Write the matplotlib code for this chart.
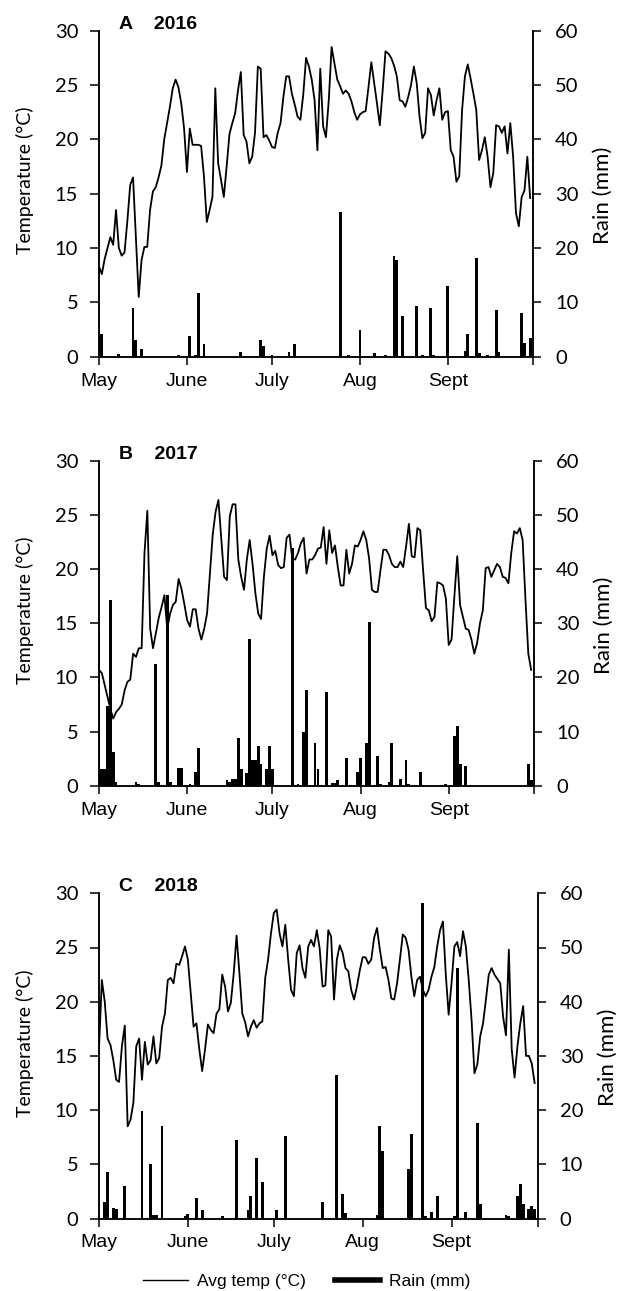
import matplotlib
matplotlib.use("Agg")
import matplotlib.pyplot as plt
from matplotlib.lines import Line2D
import numpy as np

# daily average temperature, May 1 (day 0) .. Sept 30 (day 152)
temp_2016 = [
    8.3, 7.6, 9.0, 10.0, 11.0, 10.3, 13.5, 10.0, 9.3, 9.6,
    12.5, 15.8, 16.5, 11.0, 5.5, 8.9, 10.1, 10.1, 13.5, 15.2,
    15.6, 16.5, 17.6, 20.0, 21.5, 23.0, 24.7, 25.5, 24.8, 23.3,
    21.0, 17.0, 21.0, 19.5, 19.5, 19.5, 19.4, 16.6, 12.4, 13.5,
    14.7, 24.7, 17.8, 16.3, 14.7, 17.5, 20.5, 21.5, 22.4, 24.5,
    26.2, 20.4, 19.8, 17.8, 18.4, 20.6, 26.7, 26.5, 20.2, 20.4,
    19.9, 19.3, 19.2, 20.6, 21.5, 23.9, 25.8, 25.8, 24.2, 23.2,
    22.1, 21.8, 24.1, 27.5, 26.7, 25.5, 23.6, 19.0, 26.5, 21.2,
    20.2, 23.6, 28.5, 27.0, 25.5, 24.9, 24.2, 24.5, 24.2, 23.5,
    22.5, 21.8, 22.3, 22.5, 22.6, 24.8, 27.1, 25.2, 23.3, 21.3,
    24.5, 28.1, 27.9, 27.5, 26.8, 25.8, 23.6, 23.5, 23.0, 23.9,
    25.0, 26.7, 25.2, 22.1, 20.1, 20.6, 24.7, 24.1, 22.2, 23.6,
    24.7, 21.8, 22.5, 22.6, 19.0, 18.4, 16.1, 16.6, 22.7, 25.8,
    26.9, 25.6, 24.2, 22.7, 18.1, 19.0, 20.2, 18.4, 15.6, 16.9,
    21.3, 21.2, 20.6, 21.2, 18.7, 21.5, 18.4, 13.2, 12.0, 14.7,
    15.3, 18.4, 14.6,
]
temp_2017 = [
    10.7, 10.4, 9.3, 8.2, 7.1, 6.2, 6.8, 7.1, 7.5, 8.8,
    9.6, 9.8, 12.2, 11.9, 12.7, 12.7, 21.5, 25.4, 14.5, 12.7,
    14.1, 15.5, 16.5, 17.6, 14.5, 15.9, 16.7, 17.0, 19.1, 18.2,
    16.8, 15.3, 14.7, 16.3, 16.3, 14.5, 13.5, 14.5, 15.9, 19.6,
    23.2, 25.3, 26.4, 22.9, 19.3, 19.0, 24.9, 26.0, 26.0, 20.9,
    19.3, 18.1, 20.9, 22.7, 20.5, 17.8, 15.9, 15.4, 19.3, 21.9,
    23.1, 21.3, 21.7, 20.4, 20.1, 20.2, 22.9, 23.2, 20.9, 20.9,
    21.5, 22.4, 22.9, 19.6, 20.9, 20.9, 21.3, 21.9, 22.0, 23.9,
    20.5, 23.6, 21.5, 22.2, 20.2, 18.5, 18.5, 21.8, 19.6, 20.5,
    22.2, 22.1, 22.7, 23.5, 22.7, 21.0, 18.1, 17.9, 17.9, 19.9,
    21.8, 21.8, 21.3, 20.5, 20.2, 20.2, 20.7, 20.2, 22.1, 24.2,
    21.2, 21.1, 23.8, 23.6, 19.9, 16.4, 16.2, 15.2, 15.6, 18.8,
    18.7, 18.5, 17.3, 13.0, 13.5, 17.5, 21.2, 16.7, 15.6, 14.5,
    14.4, 13.5, 12.2, 13.2, 15.0, 16.2, 20.1, 20.2, 19.3, 19.9,
    20.5, 20.2, 19.3, 19.2, 18.7, 21.5, 23.5, 23.3, 23.8, 22.7,
    17.2, 12.2, 10.7,
]
temp_2018 = [
    15.7, 22.0, 20.0, 16.6, 16.0, 14.6, 12.8, 12.6, 15.9, 17.8,
    8.5, 9.1, 10.7, 15.9, 16.6, 12.8, 16.3, 14.2, 14.6, 16.8,
    14.3, 14.8, 17.7, 18.9, 22.0, 22.2, 21.7, 23.5, 23.4, 24.2,
    25.1, 23.9, 20.8, 17.7, 18.0, 15.6, 13.6, 15.6, 17.9, 17.4,
    17.1, 18.9, 19.3, 22.5, 21.4, 19.1, 19.9, 22.6, 26.1, 22.6,
    18.9, 18.1, 16.8, 17.7, 18.3, 17.6, 18.0, 18.2, 22.2, 23.9,
    26.3, 28.2, 28.5, 26.3, 25.1, 27.1, 23.9, 21.1, 20.5, 24.5,
    25.2, 23.1, 22.2, 25.1, 25.7, 25.1, 26.6, 24.9, 21.4, 21.5,
    26.6, 26.0, 20.2, 23.9, 25.2, 24.5, 23.1, 22.8, 21.1, 20.2,
    21.4, 22.9, 24.1, 24.1, 23.5, 23.9, 25.9, 26.8, 24.8, 23.1,
    23.2, 22.0, 20.3, 20.2, 21.7, 23.9, 26.2, 25.9, 24.8, 22.3,
    20.5, 22.0, 22.3, 21.1, 20.5, 21.1, 22.3, 23.2, 25.1, 26.6,
    27.4, 22.5, 18.8, 21.7, 25.1, 25.5, 24.2, 26.5, 25.1, 22.0,
    18.3, 13.4, 14.2, 16.8, 18.0, 20.2, 22.5, 23.1, 22.5, 22.1,
    21.7, 18.6, 16.9, 24.8, 15.6, 13.0, 15.9, 18.0, 19.6, 15.0,
    15.0, 14.3, 12.5,
]

# rain: day index (0 = May 1) and amount in mm, only days with rain
rain_days_2016 = [0, 1, 7, 12, 13, 15, 28, 32, 34, 35, 37, 50, 57, 58, 61, 67, 69,
                  85, 88, 92, 97, 101, 104, 105, 107, 112, 114, 117, 118, 123, 129,
                  130, 133, 134, 137, 140, 141, 149, 150, 152]
rain_mm_2016 = [3.8, 4.2, 0.5, 8.9, 3.1, 1.5, 0.4, 3.8, 0.3, 11.8, 2.3, 0.9, 3.1, 2.0, 0.4, 0.9, 2.3,
                26.7, 0.4, 4.9, 0.7, 0.3, 18.5, 17.8, 7.5, 9.3, 0.3, 8.9, 0.3, 13.0, 1.0,
                4.2, 18.2, 0.6, 0.3, 8.6, 0.8, 8.0, 2.5, 3.4]

rain_days_2017 = [0, 1, 2, 3, 4, 5, 6, 13, 14, 20, 21, 24, 25, 28, 29, 32, 34, 35,
                  45, 46, 47, 48, 49, 50, 52, 53, 54, 55, 56, 57, 59, 60, 61, 68, 70,
                  72, 73, 76, 77, 80, 82, 83, 84, 87, 91, 92, 94, 95, 98, 99, 102,
                  103, 106, 108, 109, 113, 122, 125, 126, 127, 129, 151, 152]
rain_mm_2017 = [28.8, 3.0, 3.0, 14.7, 34.3, 6.3, 0.7, 0.6, 0.4, 22.5, 0.7, 35.2, 0.7, 3.3, 3.3, 0.3, 2.6, 7.0,
                1.0, 0.7, 1.2, 1.2, 8.9, 3.0, 2.3, 27.2, 4.7, 4.7, 7.3, 4.1, 3.0, 7.3, 3.0, 43.9, 0.3,
                10.0, 17.7, 7.8, 3.0, 17.3, 0.5, 0.5, 1.0, 5.2, 2.6, 5.2, 7.8, 30.3, 5.5, 0.3, 0.7,
                7.8, 1.2, 4.7, 0.3, 2.6, 0.3, 9.2, 11.0, 4.1, 3.7, 4.1, 1.0]

rain_days_2018 = [2, 3, 5, 6, 9, 15, 18, 19, 20, 22, 30, 31, 34, 36, 43, 48, 52, 53,
                  55, 57, 62, 65, 78, 83, 85, 86, 97, 98, 99, 108, 109, 113, 114, 116,
                  118, 124, 125, 128, 132, 133, 142, 143, 146, 147, 148, 150, 151, 152]
rain_mm_2018 = [3.1, 8.5, 2.0, 1.7, 6.0, 19.9, 10.1, 0.7, 0.6, 17.0, 0.4, 0.9, 3.8, 1.5, 0.4, 14.4, 1.5, 4.1,
                11.1, 6.8, 1.5, 15.2, 3.1, 26.5, 4.5, 1.0, 0.7, 17.0, 12.4, 9.2, 15.6, 58.2, 0.4, 1.2,
                4.1, 0.4, 46.2, 1.2, 17.6, 2.6, 0.7, 0.4, 4.1, 6.3, 2.7, 1.7, 2.3, 1.8]

month_ticks = [0, 31, 61, 92, 123, 153]
month_labels = ["May", "June", "July", "Aug", "Sept", ""]

panels = [
    ("A    2016", temp_2016, rain_days_2016, rain_mm_2016),
    ("B    2017", temp_2017, rain_days_2017, rain_mm_2017),
    ("C    2018", temp_2018, rain_days_2018, rain_mm_2018),
]
# axes boxes in pixels (left, top, right, bottom)
boxes = [(99, 30.7, 533, 356.7), (99, 461, 534, 785.7), (99, 893.3, 537.5, 1218.5)]

W, H = 622, 1291
fig = plt.figure(figsize=(W / 100, H / 100), dpi=100)

num_font = "Lato"
txt_font = "Liberation Sans"

for (title, temp, rdays, rmm), (x0, y0, x1, y1) in zip(panels, boxes):
    ax = fig.add_axes([x0 / W, 1 - y1 / H, (x1 - x0) / W, (y1 - y0) / H])
    ax2 = ax.twinx()

    ax2.bar(rdays, rmm, width=1.0, color="black", linewidth=0)
    ax.plot(np.arange(len(temp)), temp, color="black", lw=1.3)

    ax.set_xlim(0, 153)
    ax.set_ylim(0, 30)
    ax2.set_ylim(0, 60)
    ax.set_yticks(range(0, 31, 5))
    ax2.set_yticks(range(0, 61, 10))
    ax.set_xticks(month_ticks)
    ax.set_xticklabels(month_labels, fontsize=14, family=txt_font)

    for a in (ax, ax2):
        a.spines["top"].set_visible(False)
        for s in a.spines.values():
            s.set_linewidth(1.1)
    ax.tick_params(axis="y", direction="out", length=6.5, width=1.1, pad=8.5,
                   labelsize=14.5, labelfontfamily=num_font)
    ax2.tick_params(axis="y", direction="out", length=5.5, width=1.1, pad=10.5,
                    labelsize=14.5, labelfontfamily=num_font)
    ax.tick_params(axis="x", direction="out", length=5.5, width=1.1, pad=6)

    wpx = x1 - x0
    ax.set_ylabel("Temperature (°C)", fontsize=14, family=num_font, va="center")
    ax.yaxis.set_label_coords(-74 / wpx, 0.54)
    ax2.set_ylabel("Rain (mm)", fontsize=16, family=num_font, va="center")
    ax2.yaxis.set_label_coords(1 + 70 / wpx, 0.495)

    ax.text(20 / wpx, 1.006, title, transform=ax.transAxes, fontsize=14,
            fontweight="bold", family=txt_font, va="baseline", ha="left")

handles = [Line2D([], [], color="black", lw=1.0),
           Line2D([], [], color="black", lw=4.0)]
fig.legend(handles, ["Avg temp (°C)", "Rain (mm)"], loc="center",
           bbox_to_anchor=(0.493, 0.0075), ncol=2, frameon=False,
           handlelength=2.6, handletextpad=0.5, columnspacing=1.7,
           prop={"family": txt_font, "size": 12.5})

fig.savefig("out.png", dpi=100)
